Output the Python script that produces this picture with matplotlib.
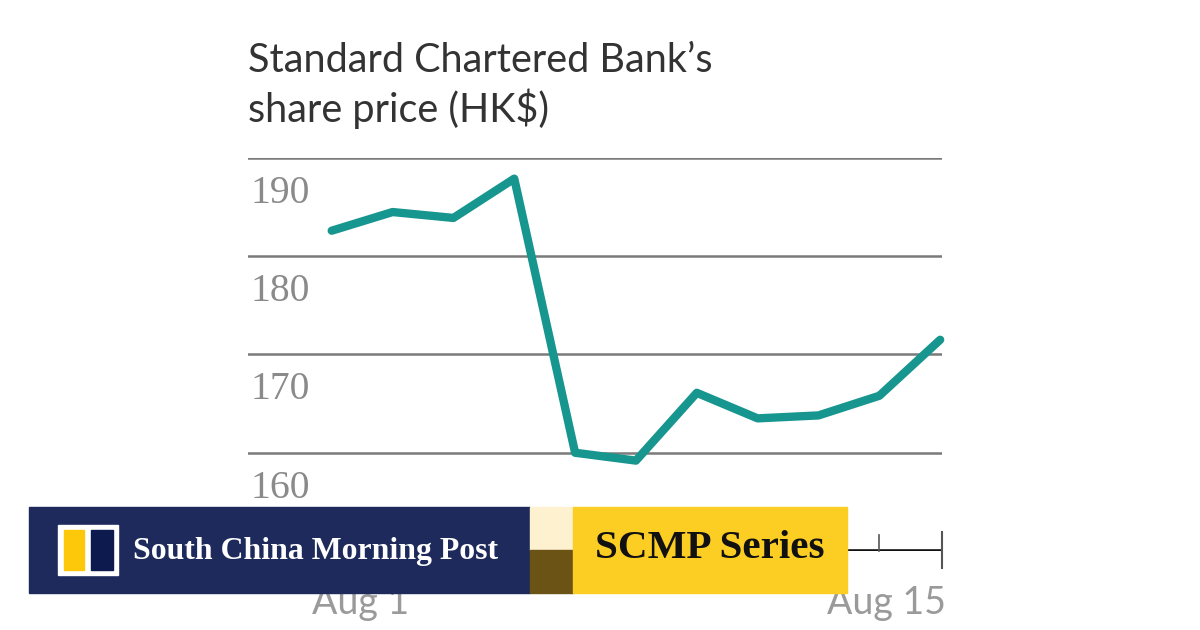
import matplotlib
matplotlib.use("Agg")
import matplotlib.pyplot as plt
from matplotlib.patches import Rectangle

# trading days, Aug 1 - Aug 15
dates = ["Aug 1", "Aug 2", "Aug 3", "Aug 6", "Aug 7", "Aug 8",
         "Aug 9", "Aug 10", "Aug 13", "Aug 14", "Aug 15"]
prices = [182.6, 184.5, 183.9, 187.9, 160.0, 159.2,
          166.1, 163.5, 163.8, 165.8, 171.5]
grid_values = [160, 170, 180, 190]
axis_value = 150

line_col = "#17958f"
grid_col = "#7a7a7a"
label_col = "#8a8a8a"

fig = plt.figure(figsize=(12, 6.3), dpi=100)
fig.patch.set_facecolor("white")

# axes area: gridlines run from x=248px to 942px, 190 at y=158px, 150 at y=551px
ax = fig.add_axes([248 / 1200, 1 - 551 / 630, (942 - 248) / 1200, (551 - 158) / 630])
x = list(range(len(dates)))
ax.set_xlim(-1.376, 10.03)
ax.set_ylim(axis_value, 190)
ax.axis("off")

for v in grid_values:
    ax.axhline(v, color=grid_col, lw=1.8, zorder=1)
    ax.text(0.003, v - 3.6, str(v), transform=ax.get_yaxis_transform(),
            ha="left", va="center", fontsize=28.5, color=label_col,
            family="Liberation Serif")

# x axis with ticks for each trading day
ax.axhline(axis_value, color="#111111", lw=2.6, zorder=2)
for xi in x[:-1]:
    ax.plot([xi, xi], [axis_value, axis_value + 1.6], color="#555555", lw=1.2,
            clip_on=False, zorder=2)
ax.plot([x[-1] + 0.03, x[-1] + 0.03], [axis_value - 1.7, axis_value + 1.9],
        color="#555555", lw=1.5, clip_on=False, zorder=2)

ax.plot(x, prices, color=line_col, lw=6, solid_joinstyle="round",
        solid_capstyle="round", clip_on=False, zorder=3)

ax.annotate(dates[0], xy=(x[0], axis_value), xytext=(29, -52),
            textcoords="offset pixels", ha="center", va="center",
            fontsize=27, color="#9a9a9a", family="Lato")
ax.annotate(dates[-1], xy=(x[-1], axis_value), xytext=(6, -52),
            textcoords="offset pixels", ha="right", va="center",
            fontsize=27, color="#9a9a9a", family="Lato")

fig.text(248 / 1200, 1 - 72 / 630, "Standard Chartered Bank\u2019s",
         ha="left", va="baseline", fontsize=28.5, color="#333333", family="Lato")
fig.text(248 / 1200, 1 - 122 / 630, "share price (HK$)",
         ha="left", va="baseline", fontsize=28.5, color="#333333", family="Lato")

# banner overlay in pixel coordinates
ov = fig.add_axes([0, 0, 1, 1], zorder=10)
ov.set_xlim(0, 1200)
ov.set_ylim(630, 0)
ov.axis("off")
ov.patch.set_alpha(0)

ov.add_patch(Rectangle((29, 507), 501, 86, color="#1d2a5b"))
ov.add_patch(Rectangle((530, 507), 43, 43, color="#fdf1cf"))
ov.add_patch(Rectangle((530, 550), 43, 43, color="#6a5314"))
ov.add_patch(Rectangle((573, 507), 274, 86, color="#fccd22"))

ov.add_patch(Rectangle((58, 525), 60, 50, color="white"))
ov.add_patch(Rectangle((64, 530), 20, 40, color="#fec80a"))
ov.add_patch(Rectangle((91, 530), 22, 40, color="#0c1a4d"))

ov.text(133, 551, "South China Morning Post", ha="left", va="center",
        fontsize=22.9, fontweight="bold", color="white", family="Liberation Serif")
ov.text(595, 549, "SCMP Series", ha="left", va="center",
        fontsize=29.6, fontweight="bold", color="#111111", family="Liberation Serif")

fig.savefig("out.png", dpi=100, facecolor="white")
